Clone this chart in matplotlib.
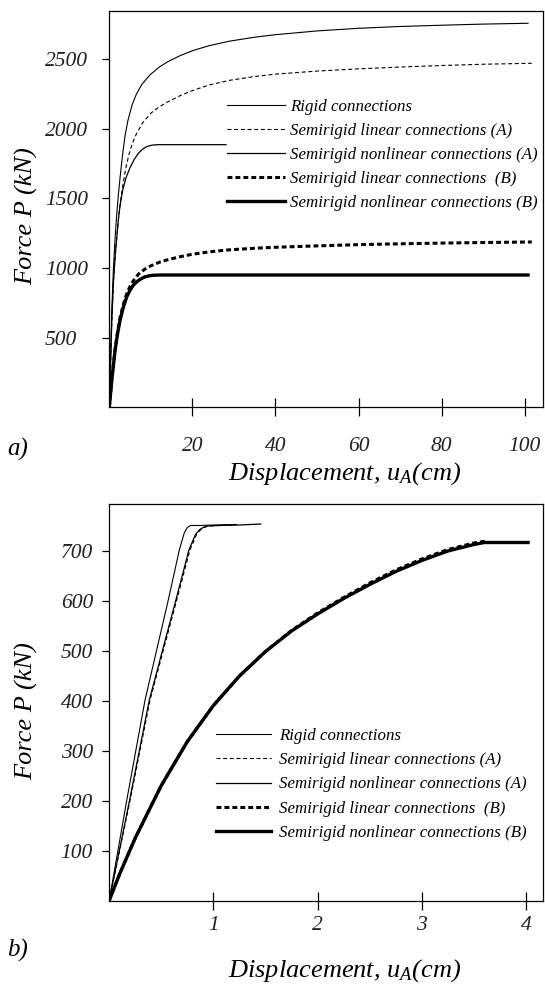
import matplotlib
matplotlib.use('Agg')
import matplotlib.pyplot as plt

plt.rcParams['font.family'] = 'Liberation Serif'
plt.rcParams['font.style'] = 'italic'
plt.rcParams['mathtext.fontset'] = 'custom'
plt.rcParams['mathtext.it'] = 'Liberation Serif:italic'
plt.rcParams['mathtext.rm'] = 'Liberation Serif:italic'

labels = ['Rigid connections',
          'Semirigid linear connections (A)',
          'Semirigid nonlinear connections (A)',
          'Semirigid linear connections  (B)',
          'Semirigid nonlinear connections (B)']

# ---- panel a) data (displacement cm, force kN)
a_rigid_x = [0, 0.6, 1.0, 1.4, 1.8, 2.2, 2.6, 3.0, 3.4, 3.8, 4.5, 5.5, 6.5, 7.8, 9.8, 12, 14, 17, 20,
             24, 29, 35, 40, 50, 60, 70, 80, 90, 100.8]
a_rigid_p = [0, 700, 1000, 1220, 1390, 1530, 1650, 1760, 1860, 1950, 2060, 2170, 2245, 2315, 2385,
             2440, 2478, 2522, 2558, 2594, 2627, 2655, 2673, 2700, 2719, 2732, 2741, 2749, 2755]
a_linA_x = [0, 0.6, 1.0, 1.4, 1.8, 2.3, 2.8, 3.4, 4.0, 4.7, 5.5, 6.5, 8.0, 10, 12, 14, 17, 20, 24,
            29, 35, 40, 50, 60, 70, 80, 90, 101.7]
a_linA_p = [0, 620, 900, 1080, 1220, 1380, 1500, 1620, 1720, 1810, 1890, 1960, 2040, 2110, 2155,
            2190, 2235, 2272, 2312, 2346, 2373, 2390, 2412, 2428, 2441, 2452, 2461, 2468]
a_nlA_x = [0, 0.6, 1.0, 1.4, 1.8, 2.2, 2.6, 3.2, 4.0, 5.0, 6.0, 7.0, 8.0, 9.0, 10, 11, 12, 28.1]
a_nlA_p = [0, 620, 900, 1080, 1220, 1350, 1450, 1555, 1645, 1720, 1778, 1822, 1852, 1870, 1879,
           1883, 1884, 1884]
a_linB_x = [0, 0.6, 1.4, 2.0, 2.6, 3.4, 4.2, 5.0, 5.8, 7.0, 8.5, 10, 12, 14, 17, 20, 24, 29, 35,
            40, 50, 60, 70, 80, 90, 101.7]
a_linB_p = [0, 200, 420, 540, 645, 740, 815, 868, 908, 955, 990, 1015, 1040, 1058, 1080, 1098,
            1115, 1130, 1141, 1148, 1158, 1167, 1173, 1178, 1182, 1186]
a_nlB_x = [0, 0.6, 1.4, 2.0, 2.6, 3.4, 4.2, 5.0, 5.8, 6.6, 7.4, 8.5, 9.5, 10.5, 12.2, 100.8]
a_nlB_p = [0, 196, 411, 530, 626, 720, 793, 840, 877, 900, 918, 935, 943, 947, 949, 949]

# ---- panel b) data
b_rigid_x = [0, 0.168, 0.344, 0.567, 0.673, 0.72, 0.75, 0.78, 0.85, 1.0, 1.22]
b_rigid_p = [0, 200, 401, 601, 701, 735, 746, 750, 750, 751, 752]
b_linA_x = [0, 0.2, 0.392, 0.648, 0.775, 0.84, 0.88, 0.92, 0.96, 1.05, 1.22]
b_linA_p = [0, 200, 401, 601, 701, 733, 742, 747, 749, 750, 752]
b_nlA_x = [0, 0.195, 0.385, 0.64, 0.765, 0.83, 0.87, 0.91, 0.95, 1.05, 1.25, 1.454]
b_nlA_p = [0, 200, 401, 601, 701, 733, 742, 747, 749, 750, 751, 753]
b_linB_x = [0, 0.1, 0.25, 0.5, 0.75, 1.0, 1.25, 1.5, 1.75, 2.0, 2.25, 2.5, 2.75, 3.0, 3.25, 3.5, 3.62]
b_linB_p = [0, 53, 125, 230, 318, 390, 449, 498, 540, 575, 606, 635, 661, 683, 702, 715, 719]
b_nlB_x = [0, 0.1, 0.25, 0.5, 0.75, 1.0, 1.25, 1.5, 1.75, 2.0, 2.25, 2.5, 2.75, 3.0, 3.25, 3.5,
           3.6, 4.02]
b_nlB_p = [0, 53, 125, 230, 318, 390, 449, 498, 539, 573, 604, 632, 658, 680, 699, 712, 716, 716]

a_xticks = [20, 40, 60, 80, 100]
a_yticks = [500, 1000, 1500, 2000, 2500]
b_xticks = [1, 2, 3, 4]
b_yticks = [100, 200, 300, 400, 500, 600, 700]

# line styles: thin solid, thin dashed, thin solid, thick dashed, thick solid
styles = [dict(lw=0.8, ls='-'),
          dict(lw=0.8, ls=(0, (3.6, 2.4))),
          dict(lw=0.9, ls='-'),
          dict(lw=2.2, ls=(0, (1.6, 1.0))),
          dict(lw=2.4, ls='-')]

W, H = 545, 990
fig = plt.figure(figsize=(W / 100, H / 100), dpi=100)


def px_axes(l, t, r, b):
    return fig.add_axes([l / W, 1 - b / H, (r - l) / W, (b - t) / H])


def setup(ax, xlim, ylim, xt, yt, xpad, ypad):
    ax.set_xlim(*xlim)
    ax.set_ylim(*ylim)
    ax.set_xticks(xt)
    ax.set_yticks(yt)
    for s in ax.spines.values():
        s.set_linewidth(0.9)
    ax.tick_params(axis='x', direction='inout', length=13, width=0.9, pad=xpad,
                   labelsize=15.5, labelcolor='#222222')
    ax.tick_params(axis='y', direction='out', length=4.7, width=0.9, pad=ypad,
                   labelsize=15.5, labelcolor='#222222')
    for lbl in ax.get_yticklabels():
        lbl.set_horizontalalignment('left')


# ---------------- panel a
ax1 = px_axes(109.3, 11, 543, 407.3)
series_a = [(a_rigid_x, a_rigid_p), (a_linA_x, a_linA_p), (a_nlA_x, a_nlA_p),
            (a_linB_x, a_linB_p), (a_nlB_x, a_nlB_p)]
for (x, p), st, lab in zip(series_a, styles, labels):
    ax1.plot(x, p, color='black', label=lab, **st)
setup(ax1, (0, 104.4), (0, 2843), a_xticks, a_yticks, xpad=14.6, ypad=41.5)
ax1.legend(loc='upper left', bbox_to_anchor=(226.7 / W, 1 - 99 / H),
           bbox_transform=fig.transFigure, frameon=False, borderpad=0,
           borderaxespad=0, handlelength=3.45, handletextpad=0.3,
           labelspacing=0.47, fontsize=12.2)

# ---------------- panel b
ax2 = px_axes(109.2, 504, 543, 900.5)
series_b = [(b_rigid_x, b_rigid_p), (b_linA_x, b_linA_p), (b_nlA_x, b_nlA_p),
            (b_linB_x, b_linB_p), (b_nlB_x, b_nlB_p)]
for (x, p), st, lab in zip(series_b, styles, labels):
    ax2.plot(x, p, color='black', label=lab, **st)
setup(ax2, (0, 4.163), (0, 793), b_xticks, b_yticks, xpad=4.6, ypad=30.2)
ax2.legend(loc='upper left', bbox_to_anchor=(215.5 / W, 1 - 727.5 / H),
           bbox_transform=fig.transFigure, frameon=False, borderpad=0,
           borderaxespad=0, handlelength=3.3, handletextpad=0.45,
           labelspacing=0.5, fontsize=12.2)

# axis titles and panel tags
xlab = r'Displacement, $u_A$(cm)'
fig.text(345 / W, 1 - 480 / H, xlab, ha='center', va='baseline', fontsize=19)
fig.text(345 / W, 1 - 976.7 / H, xlab, ha='center', va='baseline', fontsize=19)
fig.text(27 / W, 1 - 216 / H, 'Force P (kN)', rotation=90, ha='center', va='center', fontsize=19)
fig.text(27 / W, 1 - 711 / H, 'Force P (kN)', rotation=90, ha='center', va='center', fontsize=19)
fig.text(18 / W, 1 - 449 / H, 'a)', ha='center', va='center', fontsize=18)
fig.text(18 / W, 1 - 950 / H, 'b)', ha='center', va='center', fontsize=18)

fig.savefig('out.png', dpi=100)
